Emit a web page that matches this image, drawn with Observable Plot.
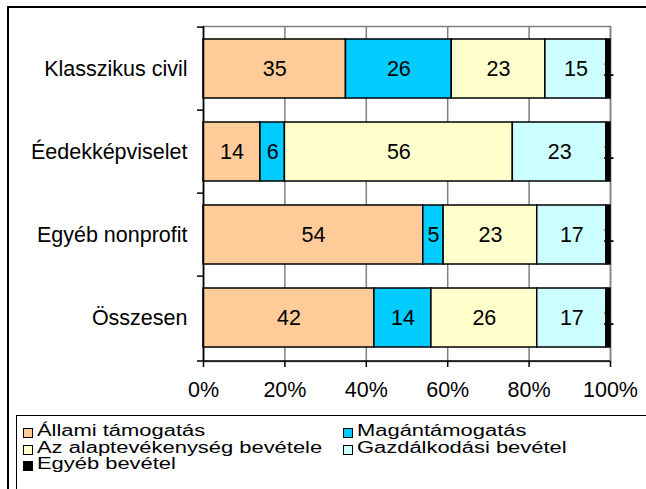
<!DOCTYPE html>
<html>
<head>
<meta charset="utf-8">
<script src="https://cdn.jsdelivr.net/npm/d3@7"></script>
<script src="https://cdn.jsdelivr.net/npm/@observablehq/plot@0.6"></script>
<style>
  html, body { margin: 0; padding: 0; background: #fff; overflow: hidden; }
  body { width: 646px; height: 489px; position: relative; font-family: "Liberation Sans", Arial, sans-serif; }
  #frame { position: absolute; left: 7px; top: 6px; width: 700px; height: 600px; border-top: 2px solid #000; border-left: 2px solid #000; box-sizing: border-box; }
  #chart { position: absolute; left: 0; top: 0; }
  #legend { position: absolute; left: 16px; top: 415px; width: 700px; height: 200px; border-top: 1.5px solid #000; border-left: 1.5px solid #000; box-sizing: border-box; }
  .item { position: absolute; height: 16px; line-height: 16px; font-size: 16px; white-space: nowrap; color: #000; }
  .sw { position: absolute; width: 10px; height: 10px; border: 1px solid #000; box-sizing: border-box; }
  .lbl { position: absolute; left: 14px; top: 0; transform: scaleX(1.37); transform-origin: left center; }
</style>
</head>
<body>
<div id="frame"></div>
<div id="chart"></div>
<div id="legend"></div>
<script>
const categories = ["Klasszikus civil", "Éedekképviselet", "Egyéb nonprofit", "Összesen"];
const series = ["Állami támogatás", "Magántámogatás", "Az alaptevékenység bevétele", "Gazdálkodási bevétel", "Egyéb bevétel"];
const allami = [35, 14, 54, 42];
const magan = [26, 6, 5, 14];
const alap = [23, 56, 23, 26];
const gazd = [15, 23, 17, 17];
const egyeb = [1, 1, 1, 1];
const colors = ["#FFCC99", "#00CCFF", "#FFFFCC", "#CCFFFF", "#000000"];
const xTicks = [0, 20, 40, 60, 80, 100];

const seriesValues = [allami, magan, alap, gazd, egyeb];
const data = [];
categories.forEach((c, i) => {
  series.forEach((s, j) => {
    data.push({category: c, series: s, value: seriesValues[j][i]});
  });
});

const W = 646, H = 416;
const mL = 203, mR = 36, mT = 26, mB = 55;
const step = (H - mT - mB) / categories.length;

const plot = Plot.plot({
  width: W,
  height: H,
  marginLeft: mL,
  marginRight: mR,
  marginTop: mT,
  marginBottom: mB,
  style: {fontFamily: "Liberation Sans, Arial, sans-serif", fontSize: "21.5px", background: "transparent", color: "#000"},
  x: {domain: [0, 100], ticks: xTicks, tickFormat: d => d + "%", label: null},
  y: {domain: categories, paddingInner: 0.2857, paddingOuter: 0.1429, label: null},
  color: {domain: series, range: colors},
  marks: [
    Plot.frame({stroke: "#808080", strokeWidth: 1.5}),
    Plot.gridX({ticks: xTicks, stroke: "#808080", strokeOpacity: 1, strokeWidth: 1.5}),
    Plot.axisX({ticks: xTicks, tickSize: 6, tickPadding: 14, tickFormat: d => d + "%", stroke: "#000", strokeWidth: 1.5, fontSize: 21.5, label: null}),
    Plot.axisY({tickSize: 6, text: null, dy: -step / 2, stroke: "#000", strokeWidth: 1.5, label: null}),
    Plot.axisY({tickSize: 0, tickPadding: 16, fontSize: 21.5, label: null}),
    Plot.barX(data, Plot.stackX({x: "value", y: "category", fill: "series", stroke: "#000", strokeWidth: 1.5})),
    Plot.text(data, Plot.stackX({x: "value", y: "category", z: "series", text: d => String(d.value), fill: "#000", fontSize: 21.5})),
    Plot.ruleX([0], {stroke: "#000", strokeWidth: 1.5})
  ]
});

// bottom axis line, extended left to the tick length
const xs = plot.scale("x");
d3.select(plot).append("line")
  .attr("x1", xs.apply(0) - 6).attr("x2", xs.apply(100))
  .attr("y1", H - mB).attr("y2", H - mB)
  .attr("stroke", "#000").attr("stroke-width", 1.5);

document.getElementById("chart").appendChild(plot);

// legend
const legendPos = [
  {left: 5.5, top: 7},
  {left: 325.5, top: 7},
  {left: 5.5, top: 23.5},
  {left: 325.5, top: 23.5},
  {left: 5.5, top: 40}
];
const legend = document.getElementById("legend");
series.forEach((s, j) => {
  const item = document.createElement("div");
  item.className = "item";
  item.style.left = legendPos[j].left + "px";
  item.style.top = legendPos[j].top + "px";
  const sw = document.createElement("div");
  sw.className = "sw";
  sw.style.background = colors[j];
  sw.style.left = "0px";
  sw.style.top = "5px";
  const lbl = document.createElement("span");
  lbl.className = "lbl";
  lbl.textContent = s;
  item.appendChild(sw);
  item.appendChild(lbl);
  legend.appendChild(item);
});
</script>
</body>
</html>
